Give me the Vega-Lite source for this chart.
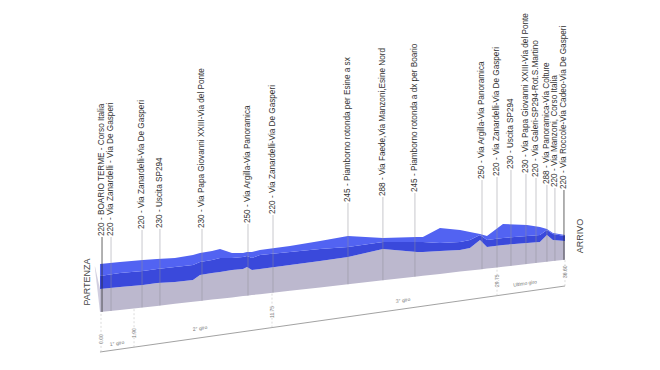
{
  "$schema": "https://vega.github.io/schema/vega-lite/v6.json",
  "width": 660,
  "height": 370,
  "autosize": {"type": "fit", "contains": "padding"},
  "padding": 0,
  "background": "white",
  "config": {"view": {"stroke": null}, "font": "Liberation Sans"},
  "datasets": {
    "profile": [
      {"km": 0.0, "back": 106, "mid": 94, "front": 81, "base": 58},
      {"km": 1.57, "back": 108, "mid": 97, "front": 83, "base": 60},
      {"km": 3.38, "back": 110, "mid": 99, "front": 85, "base": 62.6},
      {"km": 4.49, "back": 111, "mid": 101, "front": 87, "base": 64.1},
      {"km": 5.9, "back": 112, "mid": 103, "front": 88, "base": 66.2},
      {"km": 7.32, "back": 115, "mid": 105, "front": 90, "base": 68.2},
      {"km": 7.87, "back": 117, "mid": 108, "front": 95, "base": 69.0},
      {"km": 8.82, "back": 119, "mid": 110, "front": 97, "base": 70.4},
      {"km": 9.45, "back": 121, "mid": 112, "front": 98, "base": 71.3},
      {"km": 10.39, "back": 117, "mid": 112, "front": 100, "base": 72.6},
      {"km": 11.26, "back": 117, "mid": 113, "front": 101, "base": 73.9},
      {"km": 11.57, "back": 118, "mid": 114, "front": 103, "base": 74.3},
      {"km": 11.96, "back": 118, "mid": 112, "front": 100, "base": 74.9},
      {"km": 12.59, "back": 120, "mid": 115, "front": 101, "base": 75.8},
      {"km": 14.95, "back": 124, "mid": 118, "front": 105, "base": 79.2},
      {"km": 17.32, "back": 129, "mid": 121, "front": 109, "base": 82.6},
      {"km": 19.52, "back": 134, "mid": 123, "front": 113, "base": 85.7},
      {"km": 22.27, "back": 132, "mid": 128, "front": 121, "base": 89.7},
      {"km": 24.95, "back": 133, "mid": 128, "front": 118, "base": 93.5},
      {"km": 25.42, "back": 133, "mid": 128, "front": 118, "base": 94.2},
      {"km": 26.76, "back": 142, "mid": 127, "front": 119, "base": 96.1},
      {"km": 28.34, "back": 140, "mid": 128, "front": 120, "base": 98.4},
      {"km": 29.12, "back": 138, "mid": 130, "front": 122, "base": 99.5},
      {"km": 29.91, "back": 136, "mid": 135, "front": 130, "base": 100.6},
      {"km": 30.46, "back": 134, "mid": 130, "front": 123, "base": 101.4},
      {"km": 31.09, "back": 140, "mid": 131, "front": 124, "base": 102.3},
      {"km": 31.72, "back": 146, "mid": 132, "front": 125, "base": 103.2},
      {"km": 33.61, "back": 145, "mid": 134, "front": 127, "base": 106.0},
      {"km": 34.63, "back": 143, "mid": 135, "front": 128, "base": 107.4},
      {"km": 35.18, "back": 141, "mid": 140, "front": 135, "base": 108.2},
      {"km": 35.65, "back": 137, "mid": 136, "front": 130, "base": 108.9},
      {"km": 36.6, "back": 135, "mid": 134, "front": 129, "base": 110.3}
    ],
    "side": [
      {"km": -0.4, "top": 104, "bottom": 102},
      {"km": 0.0, "top": 81, "bottom": 58}
    ],
    "points": [
      {"km": 0.16, "top": 133, "base": 58, "kind": "end", "name": "220 - BOARIO TERME - Corso Italia"},
      {"km": 0.87, "top": 133, "base": 59, "kind": "mid", "name": "220 - Via Zanardelli - Via De Gasperi"},
      {"km": 3.31, "top": 140, "base": 62.5, "kind": "mid", "name": "220 - Via Zanardelli-Via De Gasperi"},
      {"km": 4.72, "top": 141, "base": 64.5, "kind": "mid", "name": "230 - Uscita SP294"},
      {"km": 8.03, "top": 141, "base": 69.2, "kind": "mid", "name": "230 - Via Papa Giovanni XXIII-Via del Ponte"},
      {"km": 11.65, "top": 146, "base": 74.4, "kind": "mid", "name": "250 - Via Argilla-Via Panoramica"},
      {"km": 13.62, "top": 155, "base": 77.3, "kind": "mid", "name": "220 - Via Zanardelli-Via De Gasperi"},
      {"km": 19.52, "top": 167, "base": 85.7, "kind": "mid", "name": "245 - Piamborno rotonda per Esine a sx"},
      {"km": 22.27, "top": 173, "base": 89.7, "kind": "mid", "name": "288 - Via Faede,Via Manzoni,Esine Nord"},
      {"km": 24.79, "top": 177, "base": 93.3, "kind": "mid", "name": "245 - Piamborno rotonda a dx per Boario"},
      {"km": 30.07, "top": 190, "base": 100.9, "kind": "mid", "name": "250 - Via Argilla-Via Panoramica"},
      {"km": 31.25, "top": 193, "base": 102.6, "kind": "mid", "name": "220 - Via Zanardelli-Via De Gasperi"},
      {"km": 32.35, "top": 200, "base": 104.2, "kind": "mid", "name": "230 - Uscita SP294"},
      {"km": 33.53, "top": 196, "base": 105.9, "kind": "mid", "name": "230 - Via Papa Giovanni XXIII-Via del Ponte"},
      {"km": 34.32, "top": 192, "base": 107.0, "kind": "mid", "name": "220 - Via Galeri-SP294-Rot.S.Martino"},
      {"km": 35.18, "top": 185, "base": 108.2, "kind": "mid", "name": "288 - Via Panoramica-Via Colture"},
      {"km": 35.81, "top": 182, "base": 109.1, "kind": "mid", "name": "220 - Via Manzoni, Corso Italia"},
      {"km": 36.52, "top": 180, "base": 110.1, "kind": "end", "name": "220 - Via Roccole-Via Cadeo-Via De Gasperi"}
    ],
    "axisline": [
      {"km": 0.0, "h": 18},
      {"km": 36.6, "h": 84}
    ],
    "ticks": [
      {"km": 0.08, "h": 18.1, "base": 58, "lab": 26, "label": "0.00"},
      {"km": 2.68, "h": 22.8, "base": 61.5, "lab": 32, "label": "1.90"},
      {"km": 13.54, "h": 42.4, "base": 77.2, "lab": 52, "label": "11.75"},
      {"km": 31.25, "h": 74.3, "base": 102.6, "lab": 83, "label": "29.75"},
      {"km": 36.6, "h": 83.9, "base": 110.3, "lab": 92, "label": "36.60"}
    ],
    "giri": [
      {"km": 1.34, "h": 27, "label": "1° giro"},
      {"km": 7.87, "h": 42, "label": "2° giro"},
      {"km": 23.85, "h": 70, "label": "3° giro"},
      {"km": 33.45, "h": 87, "label": "Ultimo giro"}
    ],
    "ends": [
      {"km": -1.02, "h": 88, "label": "PARTENZA"},
      {"km": 37.78, "h": 134, "label": "ARRIVO"}
    ]
  },
  "encoding": {
    "x": {"field": "km", "type": "quantitative", "scale": {"domain": [-7.87, 44.08], "zero": false, "nice": false}, "axis": null}
  },
  "layer": [
    {
      "data": {"name": "side"},
      "mark": {"type": "area", "color": "#d2cfe0"},
      "encoding": {
        "y": {"field": "bottom", "type": "quantitative", "scale": {"domain": [0, 370], "zero": false, "nice": false}, "axis": null},
        "y2": {"field": "top"}
      }
    },
    {
      "data": {"name": "profile"},
      "mark": {"type": "area", "color": "#bcb8ce"},
      "encoding": {
        "y": {"field": "base", "type": "quantitative", "scale": {"domain": [0, 370], "zero": false, "nice": false}, "axis": null},
        "y2": {"field": "front"}
      }
    },
    {
      "data": {"name": "profile"},
      "mark": {"type": "area", "color": "#3a49db"},
      "encoding": {
        "y": {"field": "front", "type": "quantitative", "scale": {"domain": [0, 370], "zero": false, "nice": false}, "axis": null},
        "y2": {"field": "mid"}
      }
    },
    {
      "data": {"name": "profile"},
      "mark": {"type": "area", "color": "#5263f2"},
      "encoding": {
        "y": {"field": "mid", "type": "quantitative", "scale": {"domain": [0, 370], "zero": false, "nice": false}, "axis": null},
        "y2": {"field": "back"}
      }
    },
    {
      "data": {"name": "points"},
      "mark": {"type": "rule", "strokeWidth": 0.7},
      "encoding": {
        "y": {"field": "base", "type": "quantitative", "scale": {"domain": [0, 370], "zero": false, "nice": false}, "axis": null},
        "y2": {"field": "top"},
        "color": {"condition": {"test": "datum.kind === 'end'", "value": "#222222"}, "value": "#8f8f9a"},
        "opacity": {"condition": {"test": "datum.kind === 'end'", "value": 1}, "value": 0.7}
      }
    },
    {
      "data": {"name": "points"},
      "mark": {"type": "text", "angle": 270, "align": "left", "baseline": "middle", "fontSize": 8.2, "color": "#333333", "dx": 1},
      "encoding": {
        "y": {"field": "top", "type": "quantitative", "scale": {"domain": [0, 370], "zero": false, "nice": false}, "axis": null},
        "text": {"field": "name"}
      }
    },
    {
      "data": {"name": "axisline"},
      "mark": {"type": "line", "color": "#8a8a8a", "strokeWidth": 0.8},
      "encoding": {
        "y": {"field": "h", "type": "quantitative", "scale": {"domain": [0, 370], "zero": false, "nice": false}, "axis": null}
      }
    },
    {
      "data": {"name": "ticks"},
      "mark": {"type": "rule", "color": "#c4c4c4", "strokeWidth": 0.6, "strokeDash": [2, 2]},
      "encoding": {
        "y": {"field": "h", "type": "quantitative", "scale": {"domain": [0, 370], "zero": false, "nice": false}, "axis": null},
        "y2": {"field": "base"}
      }
    },
    {
      "data": {"name": "ticks"},
      "mark": {"type": "text", "angle": 270, "align": "left", "baseline": "middle", "fontSize": 5, "color": "#777777"},
      "encoding": {
        "y": {"field": "lab", "type": "quantitative", "scale": {"domain": [0, 370], "zero": false, "nice": false}, "axis": null},
        "text": {"field": "label"}
      }
    },
    {
      "data": {"name": "giri"},
      "mark": {"type": "text", "angle": 352, "align": "center", "baseline": "middle", "fontSize": 5, "color": "#777777"},
      "encoding": {
        "y": {"field": "h", "type": "quantitative", "scale": {"domain": [0, 370], "zero": false, "nice": false}, "axis": null},
        "text": {"field": "label"}
      }
    },
    {
      "data": {"name": "ends"},
      "mark": {"type": "text", "angle": 270, "align": "center", "baseline": "middle", "fontSize": 9, "color": "#444444"},
      "encoding": {
        "y": {"field": "h", "type": "quantitative", "scale": {"domain": [0, 370], "zero": false, "nice": false}, "axis": null},
        "text": {"field": "label"}
      }
    }
  ]
}
